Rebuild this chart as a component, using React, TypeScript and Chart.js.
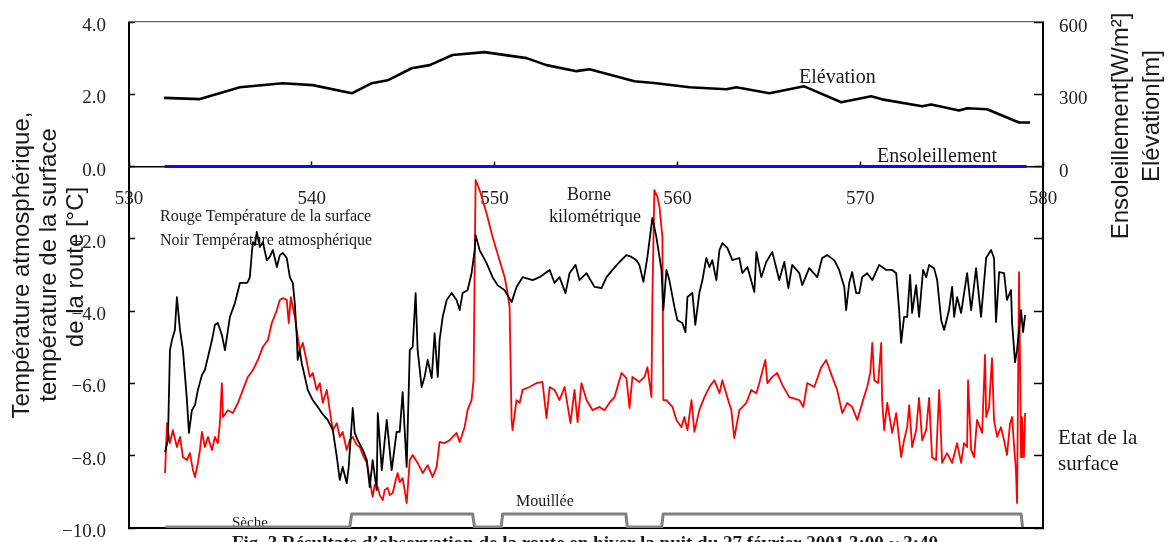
import React, { useEffect, useRef } from 'react';
import { Chart, registerables } from 'chart.js';

Chart.register(...registerables);

// ---- axes ----
const kmMin = 530;
const kmMax = 580;
const kmStep = 10;
const tempMin = -10;
const tempMax = 4;
const tempStep = 2;
const rightMin = -1500;
const rightMax = 600;
const rightStep = 300;

// ---- air temperature (black) ----
const airKm = [
  531.97, 532.13, 532.24, 532.35, 532.51, 532.62, 532.79, 532.95, 533.17, 533.28,
  533.44, 533.61, 533.77, 533.99, 534.15, 534.32, 534.54, 534.70, 534.86, 535.08,
  535.25, 535.52, 535.79, 536.07, 536.23, 536.45, 536.50, 536.61, 536.72, 536.78,
  536.89, 536.99, 537.16, 537.32, 537.54, 537.70, 537.87, 538.09, 538.25, 538.42,
  538.63, 538.80, 538.96, 539.07, 539.18, 539.23, 539.34, 539.45, 539.62, 539.78,
  540.05, 540.33, 540.55, 540.87, 541.15, 541.37, 541.53, 541.69, 541.91, 542.02,
  542.24, 542.35, 542.51, 542.79, 543.01, 543.17, 543.33, 543.55, 543.61, 543.83,
  544.10, 544.37, 544.64, 544.81, 544.97, 545.19, 545.36, 545.52, 545.68, 545.79,
  546.01, 546.17, 546.34, 546.56, 546.72, 546.89, 546.99, 547.16, 547.38, 547.65,
  547.92, 548.09, 548.25, 548.52, 548.74, 548.91, 548.96, 549.18, 549.56, 549.89,
  550.16, 550.55, 550.93, 551.20, 551.53, 552.08, 552.46, 553.01, 553.28, 553.55,
  553.88, 554.10, 554.43, 554.64, 555.03, 555.46, 555.85, 556.12, 556.45, 556.83,
  557.21, 557.49, 557.76, 557.92, 558.14, 558.36, 558.63, 558.85, 559.13, 559.23,
  559.40, 559.56, 559.84, 560.00, 560.27, 560.44, 560.55, 560.82, 560.98, 561.20,
  561.37, 561.58, 561.75, 561.91, 562.13, 562.30, 562.46, 562.73, 563.01, 563.39,
  563.55, 563.83, 564.21, 564.32, 564.59, 564.86, 565.19, 565.57, 565.85, 566.07,
  566.28, 566.67, 566.83, 567.21, 567.65, 567.92, 568.20, 568.58, 568.85, 569.13,
  569.23, 569.40, 569.56, 569.78, 569.95, 570.11, 570.38, 570.66, 571.04, 571.42,
  571.75, 571.97, 572.13, 572.24, 572.40, 572.57, 572.73, 572.84, 573.06, 573.22,
  573.44, 573.61, 573.77, 574.04, 574.21, 574.43, 574.59, 574.86, 575.03, 575.14,
  575.30, 575.52, 575.85, 576.07, 576.34, 576.61, 576.89, 577.16, 577.32, 577.43,
  577.60, 577.87, 578.03, 578.25, 578.31, 578.47, 578.58, 578.80, 578.91, 579.02,
];
const airT = [
  -7.90, -7.57, -5.08, -4.80, -4.52, -3.61, -4.52, -5.08, -6.46, -7.37,
  -6.74, -6.60, -6.18, -5.77, -5.63, -5.27, -4.80, -4.38, -4.33, -4.66,
  -5.08, -4.16, -3.78, -3.22, -3.22, -3.22, -3.19, -3.06, -2.39, -2.09,
  -2.17, -1.81, -2.23, -2.09, -2.59, -2.50, -2.31, -2.78, -2.45, -2.39,
  -2.53, -3.06, -3.22, -3.78, -4.72, -5.35, -5.08, -5.44, -5.82, -6.18,
  -6.46, -6.65, -6.82, -7.01, -7.29, -8.04, -8.67, -8.31, -8.76, -8.31,
  -6.68, -7.37, -7.57, -7.84, -8.12, -8.87, -8.12, -8.95, -6.82, -8.40,
  -7.01, -8.40, -7.34, -7.34, -6.24, -8.31, -5.08, -4.99, -3.50, -5.08,
  -6.10, -5.82, -5.35, -5.85, -4.61, -5.82, -4.80, -4.16, -3.69, -3.50,
  -3.69, -3.97, -3.50, -3.42, -2.95, -2.31, -1.89, -2.31, -2.67, -3.06,
  -3.28, -3.42, -3.75, -3.33, -3.06, -3.14, -3.06, -2.86, -3.22, -3.06,
  -3.50, -2.95, -2.72, -3.14, -2.95, -3.33, -3.36, -3.06, -2.86, -2.64,
  -2.45, -2.50, -2.59, -2.72, -3.19, -2.50, -1.42, -1.95, -2.86, -3.97,
  -2.86, -3.14, -3.89, -4.25, -4.33, -4.58, -3.61, -3.50, -4.38, -3.50,
  -3.14, -2.53, -2.78, -2.59, -3.14, -2.31, -2.12, -2.25, -2.59, -2.53,
  -2.95, -2.78, -3.47, -2.36, -3.06, -2.64, -2.36, -3.14, -2.64, -3.36,
  -2.72, -2.95, -3.28, -2.81, -3.06, -2.53, -2.45, -2.59, -2.86, -3.33,
  -3.97, -3.22, -2.92, -3.50, -3.50, -3.06, -2.95, -3.14, -2.72, -2.86,
  -2.86, -2.95, -3.97, -4.88, -4.16, -4.16, -3.00, -4.05, -3.28, -4.16,
  -2.86, -3.06, -2.72, -2.81, -3.14, -4.25, -4.52, -3.97, -3.33, -4.16,
  -3.61, -4.05, -2.95, -3.97, -2.81, -4.16, -2.53, -2.31, -2.53, -4.30,
  -2.92, -2.95, -3.69, -3.42, -4.33, -5.41, -5.08, -3.97, -4.58, -4.11,
];

// ---- road surface temperature (red) ----
const surfKm = [
  531.97, 532.08, 532.24, 532.40, 532.62, 532.79, 532.95, 533.17, 533.33, 533.50,
  533.61, 533.77, 533.88, 533.99, 534.15, 534.32, 534.54, 534.70, 534.86, 534.97,
  535.08, 535.14, 535.41, 535.68, 535.96, 536.23, 536.50, 536.78, 537.05, 537.32,
  537.60, 537.81, 538.09, 538.25, 538.42, 538.63, 538.74, 538.85, 539.07, 539.23,
  539.34, 539.51, 539.67, 539.89, 540.05, 540.27, 540.44, 540.60, 540.82, 540.98,
  541.15, 541.37, 541.53, 541.69, 541.91, 542.08, 542.24, 542.46, 542.62, 542.79,
  543.01, 543.17, 543.33, 543.44, 543.61, 543.72, 543.88, 543.99, 544.15, 544.26,
  544.43, 544.59, 544.70, 544.81, 544.97, 545.08, 545.19, 545.36, 545.52, 545.79,
  546.07, 546.34, 546.61, 546.83, 546.99, 547.27, 547.54, 547.92, 548.09, 548.36,
  548.52, 548.74, 548.85, 548.96, 549.07, 549.18, 549.56, 549.89, 550.27, 550.55,
  550.71, 550.82, 550.93, 550.98, 551.20, 551.37, 551.53, 551.91, 552.30, 552.62,
  552.84, 553.01, 553.28, 553.55, 553.83, 554.15, 554.37, 554.54, 554.75, 555.03,
  555.36, 555.74, 556.01, 556.28, 556.56, 556.94, 557.21, 557.38, 557.54, 557.92,
  558.20, 558.36, 558.58, 558.63, 558.74, 558.91, 559.02, 559.18, 559.23, 559.40,
  559.73, 559.95, 560.22, 560.38, 560.55, 560.77, 560.93, 561.20, 561.48, 561.75,
  562.02, 562.30, 562.46, 562.73, 562.95, 563.11, 563.39, 563.77, 564.04, 564.32,
  564.48, 564.81, 564.92, 565.19, 565.46, 565.74, 566.12, 566.67, 566.89, 567.10,
  567.49, 567.87, 568.14, 568.47, 568.74, 569.02, 569.29, 569.56, 569.84, 570.11,
  570.38, 570.55, 570.66, 570.77, 570.98, 571.15, 571.20, 571.31, 571.48, 571.75,
  571.97, 572.24, 572.40, 572.57, 572.68, 572.84, 573.06, 573.22, 573.39, 573.61,
  573.77, 573.93, 574.15, 574.32, 574.48, 574.75, 575.03, 575.30, 575.52, 575.68,
  575.85, 575.90, 576.07, 576.23, 576.39, 576.67, 576.83, 576.89, 577.05, 577.21,
  577.32, 577.49, 577.70, 577.87, 578.03, 578.20, 578.31, 578.42, 578.52, 578.58,
  578.69, 578.80, 578.85, 578.96, 579.02,
];
const surfT = [
  -8.48, -7.10, -7.65, -7.29, -7.76, -7.48, -8.04, -8.12, -7.93, -8.40,
  -8.59, -8.20, -7.84, -7.34, -7.76, -7.48, -7.84, -7.48, -7.65, -7.10,
  -5.99, -6.93, -6.74, -6.82, -6.54, -6.18, -5.82, -5.63, -5.35, -4.99,
  -4.80, -4.33, -3.97, -3.69, -3.64, -3.69, -4.33, -3.61, -4.16, -4.72,
  -5.08, -4.88, -5.27, -5.82, -5.71, -6.18, -5.99, -6.54, -6.18, -6.74,
  -7.29, -7.10, -7.48, -7.34, -7.84, -7.57, -7.48, -7.70, -7.76, -7.98,
  -8.20, -8.67, -9.14, -8.81, -8.87, -9.09, -9.23, -8.95, -8.89, -9.09,
  -9.03, -8.67, -8.48, -8.73, -8.62, -8.95, -9.31, -8.12, -7.98, -8.20,
  -8.48, -8.26, -8.59, -8.31, -7.62, -7.65, -7.57, -7.37, -7.62, -7.21,
  -6.74, -6.46, -5.91, -0.37, -0.51, -0.65, -1.29, -1.95, -2.59, -3.06,
  -3.50, -3.89, -7.01, -7.29, -6.46, -6.54, -6.18, -6.10, -5.99, -5.96,
  -6.96, -6.10, -6.18, -6.46, -6.10, -7.10, -6.18, -7.07, -5.99, -6.46,
  -6.74, -6.65, -6.74, -6.54, -6.38, -5.71, -5.85, -6.68, -5.82, -5.96,
  -5.82, -5.55, -6.38, -3.69, -0.65, -0.84, -1.12, -1.95, -6.46, -6.46,
  -6.65, -7.01, -7.21, -6.93, -7.29, -6.46, -7.34, -6.74, -6.38, -6.10,
  -5.91, -6.27, -5.91, -6.38, -6.74, -7.51, -6.74, -6.54, -6.18, -6.27,
  -5.99, -5.35, -5.99, -5.82, -5.71, -6.04, -6.38, -6.46, -6.65, -5.99,
  -6.10, -5.55, -5.35, -5.82, -6.18, -6.82, -6.54, -6.65, -7.01, -6.54,
  -6.10, -5.71, -4.88, -5.91, -5.99, -4.88, -6.46, -7.29, -6.54, -7.37,
  -6.82, -8.04, -7.57, -7.21, -6.60, -7.76, -7.29, -6.40, -7.57, -7.29,
  -6.40, -8.04, -8.12, -6.18, -8.20, -7.93, -8.20, -7.65, -8.20, -7.65,
  -7.76, -5.91, -7.84, -8.04, -7.01, -7.37, -5.21, -6.93, -6.65, -5.30,
  -7.01, -7.48, -7.21, -7.57, -7.98, -7.10, -6.93, -7.76, -8.40, -9.31,
  -2.92, -8.04, -6.93, -8.04, -6.82,
];

// ---- elevation [m] ----
const elevKm = [
  531.91, 533.88, 536.07, 538.42, 540.05, 542.19, 543.28, 544.15, 545.46, 546.45,
  547.70, 549.45, 551.75, 552.84, 554.48, 555.19, 557.65, 558.85, 560.66, 562.68,
  563.22, 565.03, 566.94, 568.96, 569.78, 570.60, 571.20, 573.39, 573.88, 575.41,
  575.85, 576.94, 578.69, 579.29,
];
const elevM = [
  285, 280, 329, 346, 338, 304, 346, 358, 408, 421,
  463, 475, 450, 421, 396, 404, 354, 346, 329, 321,
  329, 304, 333, 267, 279, 292, 279, 250, 258, 233,
  242, 238, 183, 183,
];

// ---- insolation [W/m2] ----
const sunKm = [531.95, 579.1];
const sunW = [0, 0];

// ---- surface state (0 = Sèche, 1 = Mouillée) ----
const stateKm = [532.0, 542.08, 542.18, 548.8, 548.9, 550.36, 550.44, 557.18, 557.26, 559.14, 559.22, 578.8, 578.88];
const stateVal = [0, 0, 1, 1, 0, 0, 1, 1, 0, 0, 1, 1, 0];

const SERIF = '"Liberation Serif", "Times New Roman", serif';
const SANS = '"Liberation Sans", Arial, sans-serif';
const caption = 'Fig. 3 Résultats d\u2019observation de la route en hiver la nuit du 27 février 2001 3:00 ~ 3:40';

const toXY = (xs: number[], ys: number[]) => xs.map((x, i) => ({ x, y: ys[i] }));

const noPad = (s: any) => {
  s.paddingTop = 0;
  s.paddingBottom = 0;
  s.paddingLeft = 0;
  s.paddingRight = 0;
};

const textPlugin = {
  id: 'textPlugin',
  beforeDatasetsDraw(chart: any) {
    const ctx = chart.ctx as CanvasRenderingContext2D;
    ctx.save();
    ctx.fillStyle = '#1a1a1a';
    ctx.textBaseline = 'alphabetic';
    const put = (s: string, x: number, y: number, font: string, align: CanvasTextAlign = 'left') => {
      ctx.font = font;
      ctx.textAlign = align;
      ctx.fillText(s, x, y);
    };
    put('Rouge Température de la surface', 160, 221, `16px ${SERIF}`);
    put('Noir Température atmosphérique', 160, 245, `16px ${SERIF}`);
    put('Borne', 589, 200, `18px ${SERIF}`, 'center');
    put('kilométrique', 595, 222, `18px ${SERIF}`, 'center');
    put('Elévation', 799, 83, `20px ${SERIF}`);
    put('Ensoleillement', 877, 162, `20px ${SERIF}`);
    put('Mouillée', 516, 506, `16px ${SERIF}`);
    put('Sèche', 232, 527, `15px ${SERIF}`);
    ctx.restore();
  },
  afterDraw(chart: any) {
    const ctx = chart.ctx as CanvasRenderingContext2D;
    ctx.save();
    ctx.fillStyle = '#1a1a1a';
    ctx.textBaseline = 'alphabetic';
    ctx.font = `21px ${SERIF}`;
    ctx.textAlign = 'left';
    ctx.fillText('Etat de la', 1058, 444);
    ctx.fillText('surface', 1058, 470);
    ctx.font = `bold 19px ${SERIF}`;
    ctx.textAlign = 'center';
    ctx.fillText(caption, 585, 549);
    const rot = (s: string, x: number, y: number, font: string) => {
      ctx.save();
      ctx.translate(x, y);
      ctx.rotate(-Math.PI / 2);
      ctx.font = font;
      ctx.textAlign = 'center';
      ctx.textBaseline = 'middle';
      ctx.fillText(s, 0, 0);
      ctx.restore();
    };
    rot('Température atmosphérique,', 22, 265, `24px ${SANS}`);
    rot('température de la surface', 49, 265, `24px ${SANS}`);
    rot('de la route [°C]', 76, 267, `24px ${SANS}`);
    rot('Ensoleillement[W/m²]', 1121, 126, `24px ${SANS}`);
    rot('Elévation[m]', 1152, 116, `24px ${SANS}`);
    ctx.restore();
  },
};

export default function App() {
  const canvasRef = useRef<HTMLCanvasElement | null>(null);

  useEffect(() => {
    const canvas = canvasRef.current;
    if (!canvas) return;
    const tickFont = { family: SERIF, size: 19 };
    const line = (data: any[], color: string, width: number, axis: string) => ({
      data,
      borderColor: color,
      backgroundColor: color,
      borderWidth: width,
      pointRadius: 0,
      tension: 0,
      fill: false,
      yAxisID: axis,
      xAxisID: 'x',
      borderJoinStyle: 'round' as const,
    });
    const chart = new Chart(canvas, {
      type: 'line',
      data: {
        datasets: [
          line(toXY(airKm, airT), '#000000', 1.8, 'y'),
          line(toXY(surfKm, surfT), '#ff0000', 1.8, 'y'),
          line(toXY(elevKm, elevM), '#000000', 2.6, 'y2'),
          line(toXY(sunKm, sunW), '#0a0aff', 3, 'y2'),
          line(toXY(stateKm, stateVal), '#808080', 3, 'ys'),
        ],
      },
      options: {
        animation: false,
        responsive: false,
        devicePixelRatio: 1,
        layout: { padding: { top: 22, bottom: 14, left: 0, right: 0 } },
        plugins: { legend: { display: false }, tooltip: { enabled: false } },
        scales: {
          y: {
            type: 'linear',
            position: 'left',
            min: tempMin,
            max: tempMax,
            ticks: {
              stepSize: tempStep,
              font: tickFont,
              color: '#222',
              padding: 29,
              labelOffset: 4,
              callback: (v: any) => (v < 0 ? '\u2212' : '') + Math.abs(Number(v)).toFixed(1),
            },
            grid: { drawOnChartArea: false, tickLength: -6, tickColor: '#000', tickWidth: 1.5 },
            border: { display: true, color: '#000', width: 2 },
            afterFit: (s: any) => { s.width = 129; noPad(s); },
          },
          y2: {
            type: 'linear',
            position: 'right',
            min: rightMin,
            max: rightMax,
            ticks: {
              stepSize: rightStep,
              font: tickFont,
              color: '#222',
              padding: 25,
              labelOffset: 5,
              callback: (v: any) => (Number(v) >= 0 ? String(v) : ''),
            },
            grid: { drawOnChartArea: false, tickLength: -9, tickColor: '#000', tickWidth: 1.5 },
            border: { display: true, color: '#000', width: 2 },
            afterFit: (s: any) => { s.width = 125; noPad(s); },
          },
          ys: {
            type: 'linear',
            display: false,
            min: -0.0769,
            max: 38.846,
          },
          x: {
            type: 'linear',
            position: { y: 0 } as any,
            min: kmMin,
            max: kmMax,
            ticks: { stepSize: kmStep, font: tickFont, color: '#222', padding: 27, autoSkip: false, maxRotation: 0 },
            grid: { drawOnChartArea: false, tickLength: -6, tickColor: '#000', tickWidth: 1.5 },
            border: { display: true, color: '#000', width: 1.5 },
            afterFit: (s: any) => { s.height = 0; noPad(s); },
          },
          xb: {
            type: 'linear',
            position: 'bottom',
            min: kmMin,
            max: kmMax,
            ticks: { display: false },
            grid: { drawOnChartArea: false, drawTicks: false },
            border: { display: true, color: '#000', width: 2 },
            afterFit: (s: any) => { s.height = 0; noPad(s); },
          },
          xt: {
            type: 'linear',
            position: 'top',
            min: kmMin,
            max: kmMax,
            ticks: { display: false },
            grid: { drawOnChartArea: false, drawTicks: false },
            border: { display: true, color: '#666', width: 1.2 },
            afterFit: (s: any) => { s.height = 0; noPad(s); },
          },
        } as any,
      },
      plugins: [textPlugin],
    });
    return () => chart.destroy();
  }, []);

  return (
    <div style={{ position: 'absolute', left: 0, top: 0, width: 1168, height: 542, background: '#fff' }}>
      <canvas ref={canvasRef} width={1168} height={542} style={{ display: 'block' }} />
    </div>
  );
}
